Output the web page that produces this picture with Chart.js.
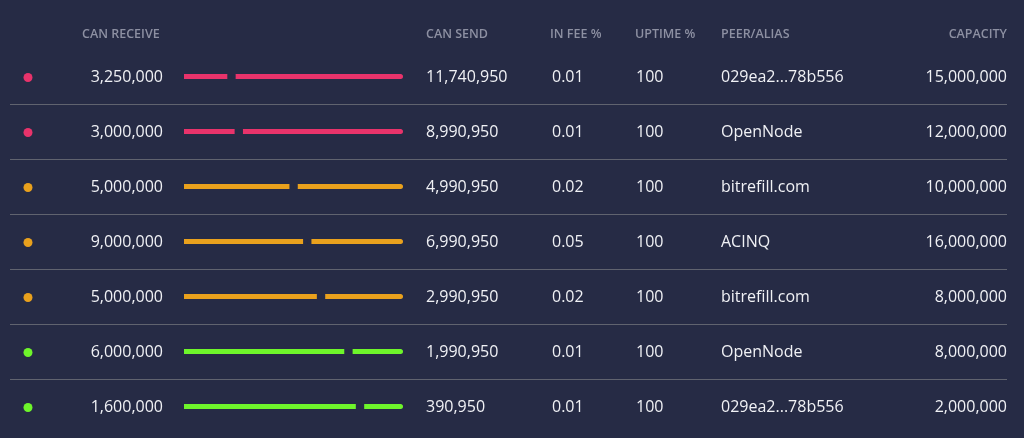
<!DOCTYPE html>
<html>
<head>
<meta charset="utf-8">
<script src="https://cdn.jsdelivr.net/npm/chart.js@4.4.1/dist/chart.umd.min.js"></script>
<style>
  html, body { margin: 0; padding: 0; background: #262b45; }
  #wrap { width: 1024px; height: 438px; position: relative; }
</style>
</head>
<body>
<div id="wrap"><canvas id="channelsChart"></canvas></div>
<script>
// Datos de los canales
const peers = ['029ea2...78b556', 'OpenNode', 'bitrefill.com', 'ACINQ', 'bitrefill.com', 'OpenNode', '029ea2...78b556'];
const canReceive = [3250000, 3000000, 5000000, 9000000, 5000000, 6000000, 1600000];
const canSend = [11740950, 8990950, 4990950, 6990950, 2990950, 1990950, 390950];
const inFee = ['0.01', '0.01', '0.02', '0.05', '0.02', '0.01', '0.01'];
const uptime = [100, 100, 100, 100, 100, 100, 100];
const capacity = [15000000, 12000000, 10000000, 16000000, 8000000, 8000000, 2000000];
const headers = ['CAN RECEIVE', 'CAN SEND', 'IN FEE %', 'UPTIME %', 'PEER/ALIAS', 'CAPACITY'];

const bg = '#262b45';
const rowColors = ['#e8336b', '#e8336b', '#e9a11d', '#e9a11d', '#e9a11d', '#6ef52b', '#6ef52b'];

// Porcentaje de recibir / enviar por canal
const receiveShare = canReceive.map((r, i) => r / (r + canSend[i]) * 100);
const sendShare = canSend.map((s, i) => s / (canReceive[i] + s) * 100);

const fmt = n => n.toLocaleString('en-US');
const font = '"Open Sans", "Noto Sans", sans-serif';

const tablePlugin = {
    id: 'tablePlugin',
    beforeDatasetsDraw(chart) {
        const ctx = chart.ctx;
        const y = chart.scales.y;
        ctx.save();
        ctx.strokeStyle = '#60636f';
        ctx.lineWidth = 1.2;
        for (let i = 0; i < peers.length - 1; i++) {
            const ly = Math.round((y.getPixelForValue(i) + y.getPixelForValue(i + 1)) / 2) + 0.5;
            ctx.beginPath();
            ctx.moveTo(10, ly);
            ctx.lineTo(1007, ly);
            ctx.stroke();
        }
        ctx.restore();
    },
    afterDraw(chart) {
        const ctx = chart.ctx;
        const y = chart.scales.y;
        ctx.save();
        ctx.textBaseline = 'middle';

        // encabezados
        ctx.font = '600 12.5px ' + font;
        ctx.fillStyle = '#8d90a2';
        ctx.textAlign = 'left';
        ctx.fillText(headers[0], 82, 34);
        ctx.fillText(headers[1], 426, 34);
        ctx.fillText(headers[2], 550, 34);
        ctx.fillText(headers[3], 635, 34);
        ctx.fillText(headers[4], 721, 34);
        ctx.textAlign = 'right';
        ctx.fillText(headers[5], 1007, 34);

        ctx.font = '400 16px ' + font;
        for (let i = 0; i < peers.length; i++) {
            const cy = y.getPixelForValue(i) + 1;
            ctx.fillStyle = rowColors[i];
            ctx.beginPath();
            ctx.arc(28, cy, 4.5, 0, Math.PI * 2);
            ctx.fill();

            ctx.fillStyle = '#f0f1f5';
            ctx.textAlign = 'right';
            ctx.fillText(fmt(canReceive[i]), 163, cy);
            ctx.fillText(fmt(capacity[i]), 1007, cy);
            ctx.textAlign = 'left';
            ctx.fillText(fmt(canSend[i]), 426, cy);
            ctx.fillText(inFee[i], 552, cy);
            ctx.fillText(String(uptime[i]), 636, cy);
            ctx.fillText(peers[i], 721, cy);
        }
        ctx.restore();
    }
};

const ctx = document.getElementById('channelsChart').getContext('2d');
const channelsChart = new Chart(ctx, {
    type: 'bar',
    data: {
        labels: peers,
        datasets: [{
            label: 'Can receive',
            data: receiveShare,
            backgroundColor: rowColors,
            borderColor: bg,
            borderWidth: { right: 4.5 },
            borderSkipped: false,
            borderRadius: 2.5,
            barThickness: 5
        }, {
            label: 'Can send',
            data: sendShare,
            backgroundColor: rowColors,
            borderColor: bg,
            borderWidth: { left: 4.5 },
            borderSkipped: false,
            borderRadius: 2.5,
            barThickness: 5
        }]
    },
    options: {
        indexAxis: 'y',
        responsive: true,
        maintainAspectRatio: false,
        animation: false,
        layout: { padding: { left: 184, right: 621, top: 49, bottom: 4 } },
        scales: {
            x: { stacked: true, min: 0, max: 100, display: false },
            y: { stacked: true, display: false }
        },
        plugins: {
            legend: { display: false },
            tooltip: { enabled: false }
        }
    },
    plugins: [tablePlugin]
});
</script>
</body>
</html>
